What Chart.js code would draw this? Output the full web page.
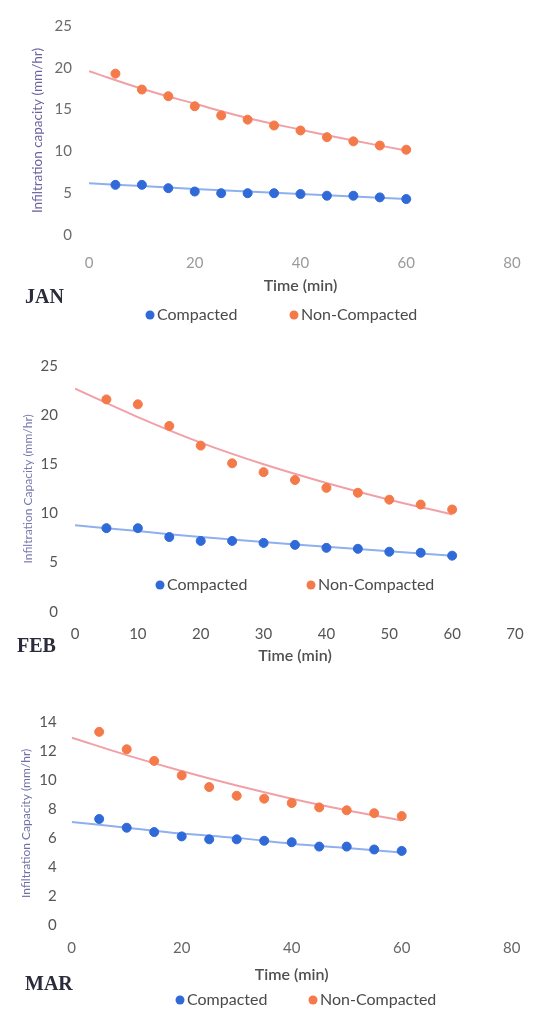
<!DOCTYPE html>
<html>
<head>
<meta charset="utf-8">
<script src="https://cdn.jsdelivr.net/npm/chart.js@4"></script>
<style>
  html, body { margin: 0; padding: 0; background: #fff; }
  body { width: 548px; height: 1017px; position: relative; overflow: hidden; }
  .panel { position: absolute; left: 0; width: 548px; }
</style>
</head>
<body>
<div class="panel" style="top:0;height:335px"><canvas id="janChart"></canvas></div>
<div class="panel" style="top:340px;height:330px"><canvas id="febChart"></canvas></div>
<div class="panel" style="top:690px;height:327px"><canvas id="marChart"></canvas></div>
<script>
// sampling times (min)
const times = [5, 10, 15, 20, 25, 30, 35, 40, 45, 50, 55, 60];
const trendTimes = [0, 10, 20, 30, 40, 50, 60];
const seriesNames = ['Compacted', 'Non-Compacted'];
const months = ['JAN', 'FEB', 'MAR'];

// infiltration capacity (mm/hr)
const janCompacted = [6.0, 6.0, 5.6, 5.2, 5.0, 5.0, 5.0, 4.9, 4.7, 4.7, 4.5, 4.3];
const janNonCompacted = [19.3, 17.4, 16.6, 15.4, 14.3, 13.8, 13.1, 12.5, 11.7, 11.2, 10.7, 10.2];
const febCompacted = [8.5, 8.5, 7.6, 7.2, 7.2, 7.0, 6.8, 6.5, 6.4, 6.1, 6.0, 5.7];
const febNonCompacted = [21.6, 21.1, 18.9, 16.9, 15.1, 14.2, 13.4, 12.6, 12.1, 11.4, 10.9, 10.4];
const marCompacted = [7.3, 6.7, 6.4, 6.1, 5.9, 5.9, 5.8, 5.7, 5.4, 5.4, 5.2, 5.1];
const marNonCompacted = [13.3, 12.1, 11.3, 10.3, 9.5, 8.9, 8.7, 8.4, 8.1, 7.9, 7.7, 7.5];

// trend lines
const janCompactedTrend = [6.2, 5.85, 5.5, 5.2, 4.9, 4.6, 4.3];
const janNonCompactedTrend = [19.6, 17.5, 15.7, 14.0, 12.6, 11.3, 10.1];
const febCompactedTrend = [8.8, 8.2, 7.6, 7.1, 6.6, 6.15, 5.7];
const febNonCompactedTrend = [22.7, 19.8, 17.2, 15.0, 13.1, 11.4, 9.9];
const marCompactedTrend = [7.1, 6.7, 6.3, 6.0, 5.6, 5.3, 5.0];
const marNonCompactedTrend = [12.9, 11.7, 10.6, 9.6, 8.7, 7.9, 7.2];

const BLUE = '#2f6ad8', ORANGE = '#f47a4a';
const BLUE_TREND = '#8fb0ee', ORANGE_TREND = '#f2a0a8';

Chart.defaults.font.family = 'Lato, "Open Sans", sans-serif';
Chart.defaults.animation = false;

const pts = (xs, ys) => xs.map((x, i) => ({ x, y: ys[i] }));

// month tag + legend drawn at fixed spots of each panel
const panelText = {
  id: 'panelText',
  afterDraw(chart, args, o) {
    const ctx = chart.ctx;
    ctx.save();
    ctx.fillStyle = '#2b2b3a';
    ctx.font = 'bold 20px "Liberation Serif", "DejaVu Serif", serif';
    ctx.textBaseline = 'middle';
    ctx.textAlign = 'left';
    ctx.fillText(o.month, o.mx, o.my);
    ctx.font = '16px Lato, "Open Sans", sans-serif';
    [0, 1].forEach(i => {
      const ds = chart.data.datasets[i];
      ctx.fillStyle = ds.backgroundColor;
      ctx.beginPath();
      ctx.arc(o.lx[i], o.ly, 4.5, 0, Math.PI * 2);
      ctx.fill();
      ctx.fillStyle = '#4a4a4a';
      ctx.fillText(ds.label, o.lx[i] + 7, o.ly);
    });
    ctx.restore();
  }
};

function makePanel(id, c) {
  const datasets = [
    { label: seriesNames[0], data: pts(times, c.comp), backgroundColor: BLUE, borderColor: BLUE, pointRadius: 4.5, showLine: false },
    { label: seriesNames[1], data: pts(times, c.non), backgroundColor: ORANGE, borderColor: ORANGE, pointRadius: 4.5, showLine: false },
    { label: 'trend-c', data: pts(trendTimes, c.compTrend), borderColor: BLUE_TREND, backgroundColor: BLUE_TREND, borderWidth: 2, pointRadius: 0, showLine: true, tension: 0.4, order: 5 },
    { label: 'trend-n', data: pts(trendTimes, c.nonTrend), borderColor: ORANGE_TREND, backgroundColor: ORANGE_TREND, borderWidth: 2, pointRadius: 0, showLine: true, tension: 0.4, order: 5 }
  ];
  return new Chart(document.getElementById(id), {
    type: 'scatter',
    data: { datasets },
    plugins: [panelText],
    options: {
      responsive: true,
      maintainAspectRatio: false,
      layout: { padding: c.pad },
      plugins: {
        legend: { display: false },
        tooltip: { enabled: false },
        panelText: c.text
      },
      scales: {
        x: {
          min: 0, max: c.xMax,
          grid: { display: false, drawTicks: false },
          border: { display: false },
          ticks: { stepSize: c.xStep, padding: c.xTickPad, color: c.xTickColor, font: { size: 15 } },
          title: { display: true, text: 'Time (min)', color: '#505050', padding: 0, font: { size: 16, weight: '600' } },
          afterFit: s => { s.height = c.xH; }
        },
        y: {
          min: 0, max: c.yMax,
          grid: { display: false, drawTicks: false },
          border: { display: false },
          ticks: { stepSize: c.yStep, padding: c.yTickPad, color: c.yTickColor, font: { size: 15 } },
          title: { display: true, text: c.yTitle, color: c.yTitleColor, padding: 0, font: { size: c.yTitleSize } },
          afterFit: s => { s.width = c.yW; }
        }
      }
    }
  });
}

makePanel('janChart', {
  comp: janCompacted, non: janNonCompacted, compTrend: janCompactedTrend, nonTrend: janNonCompactedTrend,
  xMax: 80, xStep: 20, yMax: 25, yStep: 5,
  pad: { top: 18, right: 36, bottom: 40, left: 30 },
  xH: 60, yW: 59, xTickPad: 19, yTickPad: 17,
  xTickColor: '#9a9a9a', yTickColor: '#6b6b6b',
  yTitle: 'Infiltration capacity (mm/hr)', yTitleColor: '#6d62a0', yTitleSize: 13.5,
  text: { month: months[0], mx: 25, my: 298, lx: [150, 294], ly: 315 }
});

makePanel('febChart', {
  comp: febCompacted, non: febNonCompacted, compTrend: febCompactedTrend, nonTrend: febNonCompactedTrend,
  xMax: 70, xStep: 10, yMax: 25, yStep: 5,
  pad: { top: 20, right: 33, bottom: 5, left: 21 },
  xH: 53.3, yW: 54, xTickPad: 13, yTickPad: 17,
  xTickColor: '#555', yTickColor: '#555',
  yTitle: 'Infiltration Capacity (mm/hr)', yTitleColor: '#7a7ab0', yTitleSize: 12,
  text: { month: months[1], mx: 17, my: 307, lx: [160, 311], ly: 245 }
});

makePanel('marChart', {
  comp: marCompacted, non: marNonCompacted, compTrend: marCompactedTrend, nonTrend: marNonCompactedTrend,
  xMax: 80, xStep: 20, yMax: 14, yStep: 2,
  pad: { top: 31.7, right: 36.3, bottom: 32.4, left: 18.5 },
  xH: 59.6, yW: 53.2, xTickPad: 13.7, yTickPad: 15,
  xTickColor: '#666', yTickColor: '#555',
  yTitle: 'Infiltration Capacity (mm/hr)', yTitleColor: '#7070a8', yTitleSize: 12,
  text: { month: months[2], mx: 25, my: 295, lx: [180, 313], ly: 310 }
});
</script>
</body>
</html>
